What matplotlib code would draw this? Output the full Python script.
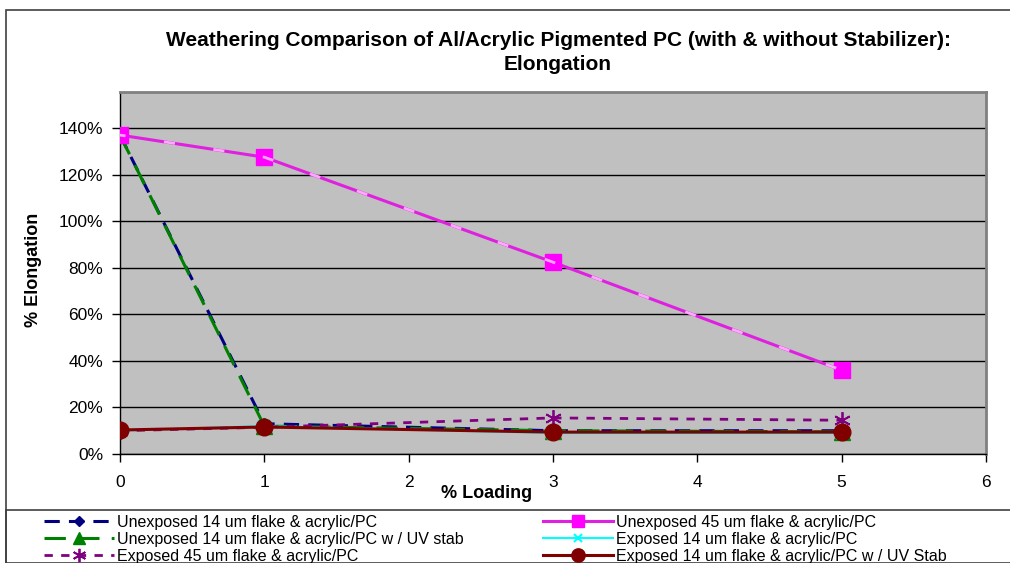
import matplotlib.pyplot as plt
from matplotlib.patches import Rectangle
from matplotlib.ticker import FuncFormatter

plt.rcParams["font.family"] = ["Liberation Sans", "DejaVu Sans"]

loading = [0, 1, 3, 5]

unexp_14 = [1.37, 0.13, 0.10, 0.10]
unexp_45 = [1.37, 1.275, 0.824, 0.36]
unexp_14_uv = [1.37, 0.12, 0.10, 0.095]
exp_14 = [0.10, 0.12, 0.09, 0.09]
exp_45 = [0.10, 0.115, 0.155, 0.145]
exp_14_uv = [0.103, 0.116, 0.094, 0.094]

labels = [
    "Unexposed 14 um flake & acrylic/PC",
    "Unexposed 45 um flake & acrylic/PC",
    "Unexposed 14 um flake & acrylic/PC w / UV stab",
    "Exposed 14 um flake & acrylic/PC",
    "Exposed 45 um flake & acrylic/PC",
    "Exposed 14 um flake & acrylic/PC w / UV Stab",
]

fig = plt.figure(figsize=(10.10, 5.63), dpi=100)

# chart frame and legend box
fig.patches.append(Rectangle((6 / 1010, 0), 1.0, (563 - 10) / 563,
                             transform=fig.transFigure, fill=False,
                             ec="#404040", lw=1.2))
fig.patches.append(Rectangle((6 / 1010, -0.01), 1.0, (563 - 510) / 563 + 0.01,
                             transform=fig.transFigure, fill=False,
                             ec="#404040", lw=1.2))

ax = fig.add_axes([120 / 1010, (563 - 454) / 563, 866 / 1010, 362 / 563])
ax.set_facecolor("#c0c0c0")

h = []
h += ax.plot(loading, unexp_14, color="#000080", lw=2.2, ls=(0, (5, 3)),
             marker="D", ms=6, mfc="#000080", mec="#000080")
(l45,) = ax.plot(loading, unexp_45, color="#e020e0", lw=2.2,
                 marker="s", ms=11, mfc="#ff00ff", mec="#ff00ff", zorder=3)
h.append(l45)
ax.plot(loading, unexp_45, color="#ffa8ff", lw=2.0, ls=(2, (4, 14)), zorder=3)
h += ax.plot(loading, unexp_14_uv, color="#008000", lw=2.2, ls=(0, (7, 4)),
             marker="^", ms=11, mfc="#008000", mec="#008000")
h += ax.plot(loading, exp_14, color="#00ffff", lw=1.5,
             marker="x", ms=8, mew=1.5)
h += ax.plot(loading, exp_45, color="#800080", lw=2.0, ls=(0, (3, 3)),
             marker=(6, 2, 0), ms=12, mew=1.3)
h += ax.plot(loading, exp_14_uv, color="#800000", lw=2.2,
             marker="o", ms=12, mfc="#800000", mec="#800000", zorder=4)

ax.set_xlim(0, 6)
ax.set_ylim(0, 1.555)
ax.set_xticks(range(0, 7))
ax.set_yticks([i * 0.2 for i in range(8)])
ax.yaxis.set_major_formatter(FuncFormatter(lambda v, p: f"{v * 100:.0f}%"))
ax.grid(axis="y", color="black", lw=1.0)
ax.set_axisbelow(True)
ax.tick_params(direction="out", length=6, width=1, labelsize=12.5,
               color="black", pad=6)
ax.tick_params(axis="x", pad=9)
for s in ["top", "right"]:
    ax.spines[s].set_color("#808080")
    ax.spines[s].set_linewidth(2)
for s in ["left", "bottom"]:
    ax.spines[s].set_color("black")
    ax.spines[s].set_linewidth(1)
for lbl in ax.get_yticklabels():
    lbl.set_clip_on(False)

fig.text(558 / 1010, (563 - 40) / 563,
         "Weathering Comparison of Al/Acrylic Pigmented PC (with & without Stabilizer):",
         ha="center", va="center", fontsize=15, fontweight="bold")
fig.text(558 / 1010, (563 - 65) / 563, "Elongation",
         ha="center", va="center", fontsize=15, fontweight="bold")
fig.text(487 / 1010, (563 - 494) / 563, "% Loading", ha="center", va="center",
         fontsize=13, fontweight="bold")
fig.text(33 / 1010, (563 - 270) / 563, "% Elongation", ha="center", va="center",
         fontsize=13, fontweight="bold", rotation=90)

order = [0, 2, 4, 1, 3, 5]
leg = fig.legend([h[i] for i in order], [labels[i] for i in order],
                 ncol=2, loc="upper left",
                 bbox_to_anchor=(44 / 1010, (563 - 515) / 563),
                 frameon=False, fontsize=11.5, handlelength=4.4,
                 handletextpad=0.15, labelspacing=0.12, columnspacing=5.0,
                 borderaxespad=0, borderpad=0, markerscale=0.8)

fig.savefig("out.png", dpi=100)
